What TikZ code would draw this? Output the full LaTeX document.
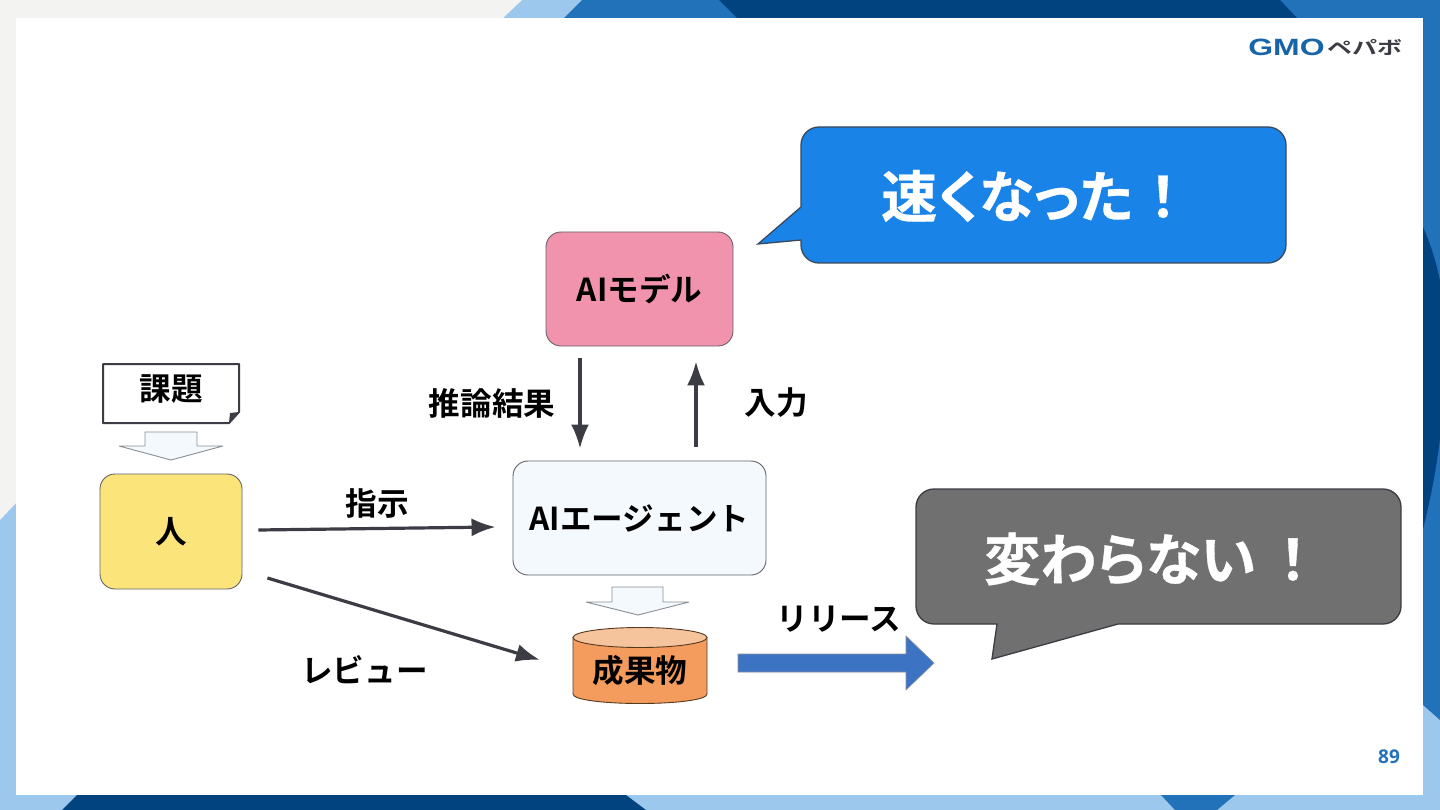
\documentclass[tikz,border=0pt]{standalone}
\usepackage{fontspec}
\usetikzlibrary{arrows.meta,calc}
\setmainfont{Noto Sans CJK JP}[BoldFont={* Bold}]
\newfontfamily\tightfont{Noto Sans CJK JP}[BoldFont={* Bold},RawFeature={+palt},BoldFeatures={FakeBold=0.6}]
\newfontfamily\latinbold{Open Sans}[BoldFont={* Bold}]
\newfontfamily\logofont{Liberation Sans}
\definecolor{navy}{HTML}{00437F}
\definecolor{midblue}{HTML}{2272BA}
\definecolor{lightblue}{HTML}{9DC8EE}
\definecolor{greybg}{HTML}{F3F3F1}
\definecolor{inkline}{HTML}{3C3C44}
\definecolor{palefill}{HTML}{F4F9FD}
\definecolor{blockline}{HTML}{8A8F96}
\tikzset{
  boxbase/.style={draw=#1,line width=.9pt,rounded corners=15pt,inner sep=0pt,font=\bfseries\fontsize{31.6}{32}\selectfont},
  lbl/.style={font=\bfseries\fontsize{31.6}{32}\selectfont,inner sep=0pt,text=black},
  flow/.style={draw=inkline,line width=3.2pt,-{Latex[length=24pt,width=18pt]}},
  hollow/.style={draw=blockline,fill=palefill,line width=.9pt,line join=bevel},
  bigtxt/.style={font=\tightfont\bfseries\fontsize{56}{56}\selectfont,text=white,inner sep=0pt,anchor=west}
}
\begin{document}
\begin{tikzpicture}[x=1pt,y=-1pt]
\useasboundingbox (0,0) rectangle (1440,810);
% frame
\fill[lightblue] (0,0) rectangle (1440,810);
\fill[greybg] (0,0) -- (522,0) -- (503,18) -- (16,18) -- (16,503) -- (0,520) -- cycle;
\fill[midblue] (582,0) -- (1440,0) -- (1440,720) -- (1423,705) -- (1423,18) -- (564,18) -- cycle;
\fill[navy] (719,0) -- (1280,0) -- (1297,18) -- (737,18) -- cycle;
\fill[navy] (1423,227) .. controls (1431,245) and (1436,262) .. (1440,281) -- (1440,439) .. controls (1436,470) and (1431,497) .. (1423,529) -- cycle;
\fill[navy] (77,795) -- (626,795) -- (646,810) -- (62,810) -- cycle;
\fill[midblue] (1161,795) -- (1235,795) -- (1217,810) -- (1175,810) -- cycle;
\fill[white] (16,18) rectangle (1423,795);
% logo
\node[inner sep=0pt,text=midblue!70!navy] (gmo) at (1286.5,47) {\logofont\bfseries\fontsize{21}{21}\selectfont\scalebox{1.52}[1.12]{GMO}};
\node[inner sep=0pt,text=inkline,font=\bfseries\fontsize{25}{25}\selectfont] (pepabo) at (1365,47) {\scalebox{1}[.72]{ペパボ}};
% issue document
\draw[draw=inkline,fill=white,line width=2pt,line join=round] (103,364) -- (239,364) -- (239,412) -- (229,423) -- (103,423) -- cycle;
\fill[inkline] (239,412) -- (229,423) -- (230,413) -- cycle;
\node[lbl] (issue) at (171,389) {課題};
\draw[hollow] (145,432) -- (197,432) -- (197,446) -- (223,446) -- (171,460) -- (119,446) -- (145,446) -- cycle;
% main boxes
\node[boxbase=inkline!80,fill={rgb,255:red,251;green,229;blue,122},minimum width=142pt,minimum height=115pt] (human) at (171,531.5) {人};
\node[boxbase=inkline!80,fill=palefill,minimum width=253pt,minimum height=114pt] (agent) at (639.5,518) {AIエージェント};
\node[boxbase=inkline!80,fill={rgb,255:red,242;green,147;blue,174},minimum width=187pt,minimum height=114pt] (model) at (639.5,289) {AIモデル};
\draw[hollow] (612,587) -- (663,587) -- (663,602) -- (689,602) -- (638,615) -- (586,602) -- (612,602) -- cycle;
% cylinder
\draw[draw=black!55!brown,fill={rgb,255:red,243;green,156;blue,94},line width=.9pt]
  (573,637.5) -- (573,694) .. controls (573,700) and (605,703.5) .. (640,703.5) .. controls (675,703.5) and (707,700) .. (707,694) -- (707,637.5) -- cycle;
\draw[draw=black!55!brown,fill={rgb,255:red,245;green,196;blue,156},line width=.9pt] (640,637.5) ellipse [x radius=67,y radius=10];
\node[lbl] (product) at (640,671) {成果物};
% connectors
\draw[flow] ([xshift=-59.5pt,yshift=-12pt]model.south) -- ([xshift=-59.5pt,yshift=12pt]agent.north);
\draw[flow] ([xshift=56.5pt,yshift=14pt]agent.north) -- ([xshift=56.5pt,yshift=-15pt]model.south);
\draw[flow] ([xshift=16pt,yshift=1.5pt]human.east) -- ([xshift=-17pt,yshift=-9pt]agent.west);
\draw[flow] ([xshift=25pt,yshift=-46.5pt]human.east) -- ([xshift=-100pt,yshift=11pt]product.center);
% labels
\node[lbl] (infer) at (492,403) {推論結果};
\node[lbl] (input) at (776,403) {入力};
\node[lbl] (instruct) at (377,503) {指示};
\node[lbl] (review) at (364.5,670) {レビュー};
\node[lbl] (release) at (839,619) {リリース};
% release arrow
\draw[fill={rgb,255:red,61;green,115;blue,195},draw=blockline,line width=.6pt] (738,654) -- (906,654) -- (906,636) -- (934,663) -- (906,690) -- (906,672) -- (738,672) -- cycle;
% callouts
\path[draw={rgb,255:red,58;green,74;blue,90},fill={rgb,255:red,26;green,131;blue,232},line width=1.3pt,line join=miter]
  (801,207) [rounded corners=18pt] -- (801,127) -- (1286,127) -- (1286,263) -- (801,263) [sharp corners] -- (801,240) -- (758,244) -- cycle;
\path[draw=inkline,fill={rgb,255:red,112;green,112;blue,112},line width=1.3pt,line join=miter]
  (997,624) [rounded corners=18pt] -- (916,624) -- (916,489) -- (1401,489) -- (1401,624) [sharp corners] -- (1118,624) -- (992,659) -- cycle;
\node[bigtxt] (fast) at (881,196) {速くなった\hspace{16pt}！};
\node[bigtxt] (same) at (984,559) {変わらない\hspace{23pt}！};
% page number
\node[inner sep=0pt,text=midblue,font=\latinbold\bfseries\fontsize{19}{19}\selectfont] (page) at (1389,757) {89};
\end{tikzpicture}
\end{document}
